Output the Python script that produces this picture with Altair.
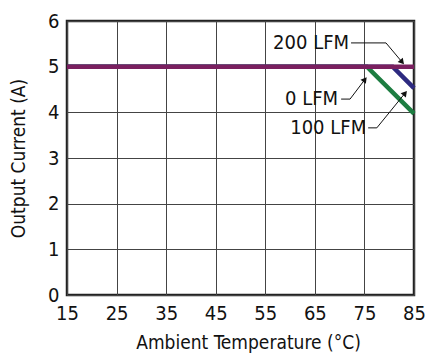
import altair as alt
import pandas as pd

# Derating curves (Ambient temperature °C, Output current A)
temp_0lfm = [15, 75.5, 85]
curr_0lfm = [5, 5, 3.97]
temp_100lfm = [15, 80.7, 85]
curr_100lfm = [5, 5, 4.53]
temp_200lfm = [15, 85]
curr_200lfm = [5, 5]

x_ticks = [15, 25, 35, 45, 55, 65, 75, 85]
y_ticks = [0, 1, 2, 3, 4, 5, 6]

colors = {"0 LFM": "#1d7d41", "100 LFM": "#2d2a80", "200 LFM": "#7a1f5f"}

# annotation labels
lab_text = ["200 LFM", "0 LFM", "100 LFM"]
lab_x = [71.9, 69.7, 75.35]
lab_y = [5.52, 4.29, 3.66]
# leader lines (polyline points per label)
lead_x = [[72.3, 79.35, 82.6], [70.3, 72.1, 75.1], [75.75, 77.5, 83.2]]
lead_y = [[5.52, 5.52, 5.1], [4.29, 4.29, 4.72], [3.66, 3.66, 4.42]]
arrow_angle = [140, 37, 39]

FONT = "'DejaVu Sans Condensed', 'Liberation Sans Narrow', Roboto, sans-serif"

rows = []
for name, xs, ys in [("0 LFM", temp_0lfm, curr_0lfm),
                     ("100 LFM", temp_100lfm, curr_100lfm),
                     ("200 LFM", temp_200lfm, curr_200lfm)]:
    for i, (a, b) in enumerate(zip(xs, ys)):
        rows.append({"series": name, "t": a, "i": b, "o": i})
df = pd.DataFrame(rows)

lead_rows = []
for k, (xs, ys) in enumerate(zip(lead_x, lead_y)):
    for j, (a, b) in enumerate(zip(xs, ys)):
        lead_rows.append({"lab": lab_text[k], "t": a, "i": b, "o": j})
lead_df = pd.DataFrame(lead_rows)

tip_df = pd.DataFrame({
    "lab": lab_text,
    "t": [xs[-1] for xs in lead_x],
    "i": [ys[-1] for ys in lead_y],
    "ang": arrow_angle,
})
lab_df = pd.DataFrame({"lab": lab_text, "t": lab_x, "i": lab_y})

xscale = alt.Scale(domain=[15, 85], nice=False, zero=False)
yscale = alt.Scale(domain=[0, 6], nice=False)

xax = alt.Axis(values=x_ticks, title="Ambient Temperature (°C)", grid=True,
               tickSize=0, labelPadding=8, titlePadding=10, domain=False,
               labelFlush=False, labelOverlap=False, titleX=181,
               labelFontSize=20, titleFontSize=19, labelFont=FONT, titleFont=FONT,
               labelColor="#111", titleColor="#111", titleFontWeight="normal")
yax = alt.Axis(values=y_ticks, title="Output Current (A)", grid=True,
               tickSize=0, labelPadding=8, titlePadding=19, domain=False,
               labelFlush=False, labelOverlap=False,
               labelFontSize=20, titleFontSize=19, labelFont=FONT, titleFont=FONT,
               labelColor="#111", titleColor="#111", titleFontWeight="normal")

base_x = alt.X("t:Q", scale=xscale, axis=xax)
base_y = alt.Y("i:Q", scale=yscale, axis=yax)

layers = []
for name in ["0 LFM", "100 LFM", "200 LFM"]:
    layers.append(
        alt.Chart(df).transform_filter(alt.datum.series == name)
        .mark_line(color=colors[name], strokeWidth=4.5, strokeCap="butt")
        .encode(x=base_x, y=base_y, order="o:Q")
    )

leaders = alt.Chart(lead_df).mark_line(color="#111", strokeWidth=1).encode(
    x="t:Q", y="i:Q", detail="lab:N", order="o:Q")
tips = alt.Chart(tip_df).mark_point(shape="triangle-up", filled=True, color="#111",
                                    size=45, opacity=1).encode(
    x="t:Q", y="i:Q", angle=alt.Angle("ang:Q", scale=None))
labels = alt.Chart(lab_df).mark_text(align="right", baseline="middle", font=FONT,
                                     fontSize=20, color="#111").encode(
    x="t:Q", y="i:Q", text="lab:N")

chart = alt.layer(*layers, leaders, tips, labels).properties(
    width=347, height=274,
    autosize=alt.AutoSizeParams(type="none"),
    padding={"left": 67, "top": 21, "right": 12, "bottom": 59},
    background="white",
).configure_view(stroke="#222", strokeWidth=2.5).configure_axis(
    gridColor="#444", gridWidth=1, gridOpacity=1)

chart.save("out.html", embed_options={"renderer": "svg", "actions": False})
